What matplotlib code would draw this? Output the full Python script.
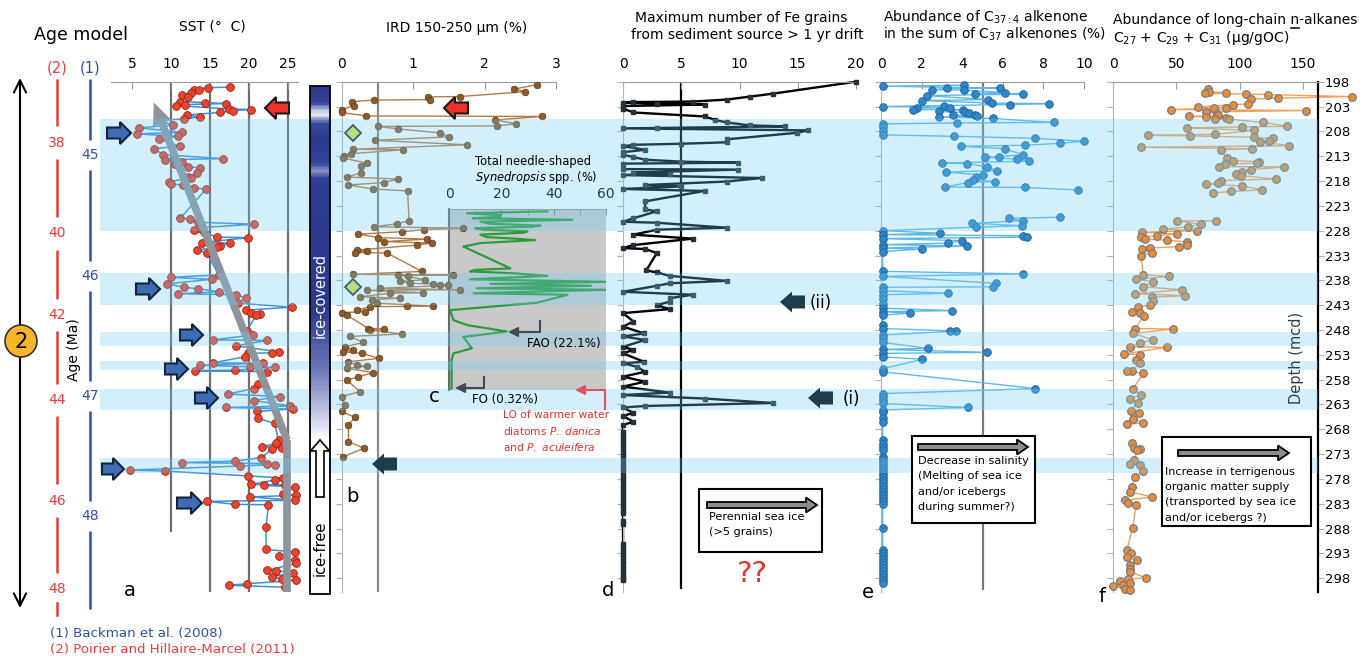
import numpy as np
import matplotlib
matplotlib.use("Agg")
import matplotlib.pyplot as plt
from matplotlib.patches import FancyArrow, Rectangle, Circle
from matplotlib.colors import LinearSegmentedColormap

# ---------------- data (depth in mcd, value) ----------------
sst_points = [
    (199.1, 17.6), (199.2, 14.7), (199.6, 13.0), (199.7, 13.6), (200.3, 12.6), (200.6, 11.4),
    (201.0, 12.2), (202.0, 11.2), (202.2, 14.4), (202.4, 17.1), (202.6, 11.8), (202.8, 10.7),
    (203.5, 17.5), (203.6, 20.3), (203.8, 18.0), (204.2, 16.3), (204.7, 12.0), (205.1, 13.7),
    (205.5, 11.7), (205.8, 8.5), (206.7, 10.3), (207.3, 5.9), (208.2, 11.4), (208.5, 5.6),
    (209.0, 10.9), (209.6, 8.5), (211.0, 11.1), (211.5, 7.8), (212.7, 9.0), (213.5, 16.7),
    (213.7, 9.2), (214.1, 11.4), (214.5, 10.5), (215.1, 12.2), (215.4, 13.7), (216.4, 13.3),
    (217.1, 12.2), (217.4, 12.6), (218.1, 9.8), (218.6, 10.0), (218.8, 11.5), (219.4, 12.9),
    (219.6, 14.5), (225.5, 11.2), (225.6, 12.4), (226.3, 13.5), (226.7, 20.6), (227.4, 13.6),
    (227.8, 12.9), (228.3, 14.2), (229.3, 15.9), (229.4, 19.9), (230.4, 14.0), (230.5, 17.6),
    (231.1, 16.3), (231.3, 15.9), (231.9, 13.3), (232.4, 14.6), (236.9, 16.1), (237.4, 10.0),
    (237.8, 15.2), (238.7, 9.5), (239.4, 11.7), (239.7, 13.5), (240.3, 16.1), (240.7, 10.9),
    (240.9, 18.4), (241.6, 19.6), (242.6, 18.6), (243.4, 25.5), (244.0, 19.6), (244.5, 20.3),
    (244.8, 21.4), (245.0, 20.9), (248.3, 19.7), (249.0, 20.5), (250.0, 15.4), (250.1, 22.3),
    (251.2, 18.3), (252.4, 23.9), (252.6, 22.9), (252.7, 19.9), (253.4, 19.5), (254.6, 15.4),
    (254.7, 21.8), (255.1, 13.7), (255.4, 20.1), (255.5, 23.3), (256.1, 18.2), (256.2, 13.1),
    (256.4, 22.3), (258.8, 21.2), (259.8, 20.6), (260.9, 17.3), (261.4, 24.0), (262.2, 20.6),
    (263.3, 25.3), (263.6, 17.1), (263.9, 25.7), (264.4, 21.0), (265.8, 21.2), (266.8, 23.3),
    (270.2, 23.8), (270.8, 23.5), (271.5, 21.7), (271.7, 24.2), (271.9, 23.0), (273.7, 21.6),
    (274.4, 18.2), (274.7, 11.4), (274.9, 22.3), (275.1, 23.3), (275.4, 18.8), (276.2, 4.7),
    (276.4, 9.2), (277.4, 19.9), (277.8, 24.4), (278.2, 23.3), (279.1, 20.3), (279.2, 24.6),
    (279.3, 22.0), (279.6, 25.9), (281.0, 24.4), (281.3, 26.1), (281.6, 20.1), (282.3, 25.9),
    (282.5, 14.6), (283.1, 18.2), (283.2, 22.5), (287.7, 22.2), (292.2, 22.2), (292.7, 25.9),
    (293.6, 23.9), (294.4, 25.9), (295.0, 26.1), (296.4, 22.3), (296.5, 23.5), (296.9, 25.7),
    (297.7, 22.9), (298.1, 24.2), (298.4, 26.1), (299.1, 19.7), (299.4, 17.4), (299.8, 24.6),
]

ird_points = [
    (198.6, 2.73), (199.5, 2.41), (200.0, 2.57), (201.0, 1.65), (201.05, 1.20), (201.6, 1.24),
    (201.7, 0.45), (202.0, 0.14), (202.8, 0.17), (203.6, 0.0), (204.2, 0.0), (204.9, 0.34),
    (205.0, 2.80), (205.7, 2.15), (206.5, 2.44), (206.9, 2.17), (207.0, 0.51), (207.5, 0.78),
    (208.3, 1.37), (209.1, 1.50), (209.8, 0.46), (210.7, 1.75), (211.6, 0.16), (211.7, 0.86),
    (212.5, 0.12), (212.9, 0.03), (213.4, 0.02), (214.4, 0.35), (214.9, 0.26), (216.4, 0.26),
    (217.2, 0.07), (217.6, 0.79), (218.3, 0.59), (218.8, 0.09), (219.6, 0.43), (220.0, 0.92),
    (226.0, 0.94), (226.6, 0.77), (227.2, 0.45), (227.5, 1.69), (227.8, 1.15), (228.2, 0.84),
    (228.7, 0.23), (229.4, 0.51), (229.7, 1.19), (230.2, 0.59), (230.5, 1.26), (230.9, 1.05),
    (231.9, 0.21), (232.0, 0.35), (232.4, 0.18), (232.5, 0.63), (236.2, 1.12), (236.8, 0.16),
    (236.9, 1.55), (237.0, 0.79), (237.2, 0.93), (237.9, 1.16), (238.2, 0.81), (238.6, 0.95),
    (238.7, 1.28), (238.9, 1.37), (239.0, 1.49), (239.6, 0.53), (239.9, 1.65), (240.0, 0.35),
    (240.5, 1.14), (240.6, 0.67), (241.3, 0.25), (241.6, 0.81), (241.9, 0.42), (242.6, 0.49),
    (243.2, 1.28), (243.25, 0.91), (243.3, 0.39), (244.0, 0.21), (244.3, 0.32), (244.5, 0.0),
    (245.0, 0.07), (247.7, 0.37), (247.8, 0.59), (248.0, 0.39), (248.8, 0.84), (249.3, 0.11),
    (250.5, 0.30), (251.4, 0.04), (252.0, 0.16), (252.4, 0.02), (252.7, 0.28), (253.7, 0.52),
    (254.4, 0.09), (255.1, 0.21), (255.3, 0.35), (255.7, 0.07), (256.6, 0.44), (257.4, 0.23),
    (258.1, 0.07), (260.4, 0.25), (261.4, 0.0), (263.1, 0.04), (264.4, 0.0), (265.6, 0.18),
    (267.1, 0.09), (270.5, 0.09), (271.8, 0.31), (273.5, 0.02),
]
ird_diamond_depth = [208.4, 239.4]
ird_diamond_value = [0.16, 0.16]

syn_points = [
    (224.1, 37.6), (224.5, 6.8), (224.9, 20.0), (225.2, 19.6), (225.5, 9.0), (225.8, 47.2),
    (226.2, 12.0), (226.6, 15.8), (227.0, 35.0), (227.2, 31.2), (227.5, 10.0), (227.8, 13.2),
    (228.1, 30.0), (228.4, 28.6), (228.8, 12.0), (229.3, 14.5), (229.6, 25.0), (229.9, 33.0),
    (230.5, 12.0), (231.2, 5.5), (235.6, 23.5), (235.9, 10.0), (236.2, 8.1), (236.6, 25.0),
    (237.1, 37.6), (237.8, 8.1), (238.3, 60.0), (238.7, 15.8), (239.1, 54.2), (239.6, 10.6),
    (239.9, 60.0), (240.6, 9.4), (240.9, 45.3), (242.5, 33.7), (244.0, 0.4), (246.0, 1.7),
    (247.0, 6.8), (248.3, 22.1), (249.4, 5.5), (251.7, 8.7), (252.7, 1.7), (254.0, 1.0),
    (259.8, 1.0), (260.1, 0.32),
]

fe_points = [
    (198.0, 20.0), (200.4, 12.9), (201.0, 10.9), (201.6, 8.9), (202.0, 6.0), (202.1, 0.9),
    (202.2, 0.0), (202.4, 2.9), (202.6, 7.0), (202.9, 0.0), (203.4, 0.0), (204.2, 0.9),
    (205.0, 7.0), (205.7, 7.9), (206.2, 8.9), (206.8, 10.9), (207.0, 13.9), (207.3, 2.9),
    (207.4, 0.0), (207.8, 15.9), (208.3, 14.9), (209.6, 8.9), (210.2, 8.9), (210.5, 5.0),
    (210.7, 0.9), (211.0, 0.0), (211.7, 1.9), (212.2, 0.0), (212.7, 0.0), (213.2, 0.9),
    (213.7, 1.9), (214.1, 5.0), (214.3, 9.9), (214.5, 0.0), (215.6, 0.0), (215.7, 9.9),
    (216.3, 0.9), (216.5, 4.0), (216.8, 0.0), (217.4, 11.9), (218.1, 8.9), (218.8, 1.9),
    (219.1, 5.0), (219.6, 0.0), (220.0, 7.0), (222.1, 1.9), (223.7, 1.9), (224.1, 2.9),
    (225.5, 0.9), (226.2, 0.0), (226.4, 2.9), (227.4, 8.9), (227.8, 2.9), (228.8, 0.9),
    (229.6, 6.0), (230.9, 0.9), (231.5, 0.0), (231.7, 1.9), (232.5, 2.9), (236.0, 2.0),
    (236.4, 2.9), (237.1, 4.0), (238.1, 8.9), (238.6, 4.0), (239.1, 2.9), (240.3, 0.0),
    (240.9, 6.0), (241.6, 4.0), (242.3, 4.0), (243.0, 2.9), (243.8, 4.0), (244.6, 0.0),
    (246.3, 0.9), (247.3, 0.0), (248.7, 1.8), (249.3, 0.0), (250.0, 1.9), (251.4, 0.0),
    (252.0, 0.9), (252.7, 0.0), (254.4, 1.8), (254.7, 0.0), (255.4, 1.2), (256.4, 1.9),
    (257.4, 0.0), (258.4, 1.9), (259.4, 0.0), (260.6, 4.0), (261.1, 0.0), (261.8, 7.0),
    (262.7, 12.9), (263.3, 1.9), (263.6, 0.0), (264.7, 0.9), (265.3, 0.0), (266.5, 0.9),
    (267.1, 0.0), (268.5, 0.0), (269.3, 0.0), (270.0, 0.0), (270.6, 0.0), (271.2, 0.0),
    (272.0, 0.0), (272.7, 0.0), (273.3, 0.0), (274.0, 0.0), (274.7, 0.0), (275.3, 0.0),
    (276.0, 0.0), (276.6, 0.0), (277.3, 0.0), (278.0, 0.0), (278.7, 0.0), (279.4, 0.0),
    (280.1, 0.0), (280.8, 0.0), (281.5, 0.0), (282.2, 0.0), (282.8, 0.0), (283.5, 0.0),
    (284.2, 0.0), (284.9, 0.0), (286.4, 0.0), (287.0, 0.0), (291.0, 0.0), (291.7, 0.0),
    (292.4, 0.0), (293.1, 0.0), (293.8, 0.0), (294.5, 0.0), (295.2, 0.0), (295.9, 0.0),
    (296.6, 0.0), (297.3, 0.0), (298.0, 0.0), (298.4, 0.0),
]

c37_points = [
    (198.7, 4.09), (198.9, 0.08), (199.3, 5.86), (199.35, 3.23), (199.6, 2.50), (199.7, 4.10),
    (200.2, 6.10), (200.4, 4.63), (200.5, 7.00), (200.8, 2.25), (201.6, 5.29), (201.8, 2.00),
    (202.3, 5.45), (202.4, 8.30), (202.6, 6.36), (202.8, 3.12), (203.0, 0.08), (203.2, 3.40),
    (203.3, 1.79), (203.6, 1.56), (203.65, 4.02), (204.0, 2.87), (204.2, 4.14), (204.3, 4.35),
    (204.7, 4.63), (204.75, 3.53), (205.0, 4.71), (205.1, 2.87), (205.4, 5.50), (206.2, 8.50),
    (206.3, 3.76), (206.5, 0.08), (207.2, 0.08), (207.9, 0.08), (208.7, 0.08), (209.0, 3.60),
    (209.4, 7.60), (210.0, 10.0), (210.4, 8.80), (210.8, 7.10), (211.0, 3.92), (211.5, 6.10),
    (212.7, 7.00), (213.1, 5.83), (213.2, 5.12), (213.6, 6.72), (214.0, 7.30), (214.4, 2.99),
    (214.5, 4.25), (215.1, 5.20), (215.9, 5.70), (216.2, 3.20), (216.8, 5.00), (217.1, 4.68),
    (217.8, 4.55), (218.1, 5.60), (218.3, 4.30), (219.2, 3.15), (219.3, 7.10), (219.8, 9.70),
    (225.3, 8.80), (225.5, 6.30), (226.0, 7.00), (226.5, 4.50), (227.0, 6.93), (227.3, 4.68),
    (228.0, 0.08), (228.5, 2.90), (228.8, 0.08), (229.0, 7.00), (229.3, 7.18), (229.6, 0.08),
    (230.0, 3.97), (230.5, 3.28), (230.8, 0.08), (231.1, 4.25), (231.5, 0.08), (231.7, 2.00),
    (232.2, 0.08), (236.2, 0.08), (236.7, 7.00), (237.2, 0.08), (238.6, 5.66), (239.3, 5.50),
    (239.4, 0.08), (240.1, 0.08), (240.6, 3.30), (240.9, 0.08), (241.8, 0.08), (242.8, 0.08),
    (243.6, 0.08), (244.1, 3.50), (244.3, 0.08), (244.6, 1.43), (245.0, 0.08), (247.0, 0.08),
    (247.7, 0.08), (248.2, 3.70), (248.3, 3.40), (249.0, 0.08), (249.7, 0.08), (250.5, 0.08),
    (251.7, 2.30), (251.9, 0.08), (252.5, 5.20), (252.7, 0.08), (253.4, 0.08), (253.9, 2.04),
    (255.8, 0.08), (256.4, 0.08), (259.8, 7.60), (260.8, 0.08), (261.5, 0.08), (262.1, 0.08),
    (262.8, 0.08), (263.6, 4.30), (264.1, 0.08), (264.5, 0.08), (265.8, 0.08), (266.5, 0.08),
    (270.2, 0.08), (270.9, 0.08), (271.5, 0.08), (272.2, 0.08), (273.5, 0.08), (274.0, 0.08),
    (274.6, 0.08), (275.2, 0.08), (275.8, 0.08), (276.4, 0.08), (277.0, 0.08), (277.6, 0.08),
    (278.2, 0.08), (278.8, 0.08), (279.4, 0.08), (280.0, 0.08), (280.6, 0.08), (281.2, 0.08),
    (281.8, 0.08), (282.4, 0.08), (283.0, 0.08), (287.8, 0.08), (292.4, 0.08), (293.0, 0.08),
    (293.6, 0.08), (294.2, 0.08), (294.8, 0.08), (295.4, 0.08), (296.0, 0.08), (296.6, 0.08),
    (297.2, 0.08), (297.8, 0.08), (298.4, 0.08), (299.0, 0.08),
]
c37_breaks = [222.0]

alk_points = [
    (199.5, 75.3), (200.0, 76.0), (200.2, 89.2), (200.3, 72.6), (200.5, 104.7), (200.6, 122.1),
    (201.0, 188.4), (201.3, 130.5), (201.5, 108.7), (202.5, 106.3), (202.6, 95.0), (203.1, 67.4),
    (203.2, 89.2), (203.3, 80.0), (203.6, 45.8), (203.8, 152.4), (204.1, 73.4), (204.5, 81.8),
    (204.8, 82.6), (205.0, 60.3), (205.1, 73.2), (205.3, 88.9), (205.5, 80.5), (205.55, 91.8),
    (206.2, 118.7), (207.0, 137.6), (207.1, 101.6), (207.3, 58.2), (207.8, 111.3), (208.6, 80.5),
    (208.8, 27.9), (208.9, 60.8), (209.2, 111.3), (209.4, 126.6), (210.0, 123.4), (210.05, 116.0),
    (210.9, 139.2), (211.2, 21.8), (211.5, 110.0), (211.7, 85.0), (213.4, 89.7), (213.9, 95.0),
    (214.1, 115.5), (214.4, 113.4), (214.6, 88.4), (215.1, 84.0), (215.15, 135.0), (215.7, 109.0),
    (216.1, 101.6), (216.5, 97.1), (216.9, 101.0), (217.6, 128.4), (217.9, 85.5), (218.4, 83.2),
    (218.6, 73.7), (219.0, 101.6), (219.8, 117.9), (220.1, 93.2), (220.4, 79.2), (226.0, 81.3),
    (226.05, 50.8), (226.7, 69.5), (227.2, 59.5), (227.7, 39.7), (228.0, 66.6), (228.3, 22.6),
    (228.7, 50.8), (229.0, 35.0), (229.3, 22.1), (229.7, 25.3), (229.9, 42.4), (230.3, 58.7),
    (230.9, 58.7), (231.2, 52.4), (231.5, 29.2), (231.7, 22.6), (232.4, 30.5), (233.0, 21.8),
    (236.9, 24.0), (237.2, 44.5), (237.8, 18.2), (238.3, 31.3), (239.3, 24.0), (239.9, 54.2),
    (240.7, 17.4), (241.1, 56.8), (241.4, 30.5), (242.2, 31.8), (243.0, 29.2), (243.3, 20.0),
    (244.3, 14.7), (244.6, 21.3), (245.1, 24.5), (247.7, 17.4), (247.8, 47.1), (248.7, 16.0),
    (250.0, 31.8), (250.6, 21.3), (251.4, 13.4), (251.5, 42.4), (252.8, 8.7), (253.0, 21.3),
    (254.0, 18.2), (254.7, 21.3), (256.2, 14.7), (256.3, 10.8), (256.7, 24.0), (259.9, 15.5),
    (261.1, 22.1), (261.8, 13.2), (262.8, 19.5), (264.4, 14.0), (264.7, 20.8), (266.0, 15.5),
    (266.7, 24.0), (267.0, 10.8), (270.8, 14.7), (271.7, 16.3), (271.9, 21.3), (272.1, 18.9),
    (274.1, 16.8), (275.0, 13.2), (275.2, 21.3), (276.4, 24.0), (277.6, 17.4), (279.6, 14.7),
    (280.6, 13.2), (281.6, 31.0), (282.3, 9.5), (282.8, 12.1), (283.3, 18.2), (287.8, 15.5),
    (292.4, 10.8), (293.0, 14.0), (293.8, 10.8), (294.4, 18.7), (295.4, 13.2), (296.1, 13.7),
    (296.7, 13.7), (297.9, 25.8), (298.2, 12.1), (298.5, 5.5), (299.0, 13.2), (299.4, 8.2),
    (299.6, 0.3), (300.1, 9.5), (300.4, 13.2),
]
alk_breaks = [223.0, 269.0]

band_top = [205.5, 236.5, 248.4, 254.2, 259.9, 273.8]
band_bottom = [228.0, 243.0, 251.2, 256.1, 264.1, 276.8]

age2_labels = ["38", "40", "42", "44", "46", "48"]
age2_depth = [210.3, 228.5, 245.0, 262.1, 282.4, 300.2]
age1_labels = ["45", "46", "47", "48"]
age1_depth = [212.8, 237.1, 261.3, 285.5]

depth_ticks = list(range(198, 299, 5))
sst_ref = [10, 15, 20, 25]
sst_ref_end = [288.7, 300.7, 300.7, 300.7]
trend_x = [24.9, 24.9, 7.8]
trend_d = [300.7, 270.2, 202.2]

# ---------------- layout helpers (pixels) ----------------
W, H = 1368, 660
Y198 = 81.7
PPM = 4.966
BOT = 592


def dep(y):
    return 198 + (y - Y198) / PPM


def unzip(points):
    return [p[0] for p in points], [p[1] for p in points]


def split_at(depths, values, breaks):
    segs, cur_d, cur_v = [], [], []
    edges = list(breaks) + [1e9]
    k = 0
    for d, v in zip(depths, values):
        while d > edges[k]:
            if cur_d:
                segs.append((cur_d, cur_v))
            cur_d, cur_v = [], []
            k += 1
        cur_d.append(d)
        cur_v.append(v)
    if cur_d:
        segs.append((cur_d, cur_v))
    return segs


fig = plt.figure(figsize=(W / 100, H / 100), dpi=100)


def panel(x0, x1, xlim, xticks, y0=Y198, y1=BOT, depth_axis=True, z=1):
    ax = fig.add_axes([x0 / W, 1 - y1 / H, (x1 - x0) / W, (y1 - y0) / H], zorder=z)
    ax.patch.set_visible(False)
    ax.set_xlim(xlim)
    ax.set_ylim(dep(y1), dep(y0))
    ax.xaxis.tick_top()
    ax.set_xticks(xticks)
    ax.tick_params(axis="x", direction="in", length=5, color="#999999", labelsize=10, pad=8)
    ax.spines["right"].set_visible(False)
    ax.spines["bottom"].set_visible(False)
    ax.spines["top"].set_color("#9a9a9a")
    ax.spines["left"].set_color("#b4b4b4")
    if depth_axis:
        ax.set_yticks(depth_ticks)
        ax.tick_params(axis="y", direction="out", length=4, color="#b0b0b0", labelleft=False)
    else:
        ax.spines["left"].set_visible(False)
        ax.set_yticks([])
    return ax


# ---------------- SST ----------------
sst = panel(111, 298, (2.3, 26.3), [5, 10, 15, 20, 25], depth_axis=False)
sst.vlines(sst_ref, 198, sst_ref_end, color="#6e6e6e", lw=1.6, zorder=1)
d, v = unzip(sst_points)
sst.plot(v, d, "-", color="#3d8fd4", lw=1.1, zorder=2, clip_on=False)
sst.plot(v, d, "o", ms=5.6, mfc="#e8442e", mec="#9b2414", mew=0.6, zorder=3, clip_on=False)
sst.plot(trend_x[:2], trend_d[:2], color="#8d949b", lw=5.5, solid_capstyle="butt", zorder=4)
sst.annotate("", xy=(trend_x[2], trend_d[2]), xytext=(trend_x[1], trend_d[1]),
             arrowprops=dict(arrowstyle="simple,head_width=1.4,head_length=1.6,tail_width=0.55",
                             fc="#8d949b", ec="none", mutation_scale=10, shrinkA=0, shrinkB=0),
             zorder=4)

# ---------------- inset (Synedropsis) ----------------
ins = fig.add_axes([449 / W, 1 - 390 / H, 157 / W, 181 / H], zorder=0.5)
ins.set_facecolor("#c9c9c9")
ins.set_xlim(0, 60)
ins.set_ylim(dep(390), dep(209))
ins.xaxis.tick_top()
ins.set_xticks([0, 20, 40, 60])
ins.set_xticks([10, 30, 50], minor=True)
ins.tick_params(axis="x", which="both", direction="in", length=4, color="#8a8a8a", labelsize=10, pad=6)
ins.set_yticks([])
for s in ["right", "bottom"]:
    ins.spines[s].set_visible(False)
ins.spines["top"].set_color("#9a9a9a")
ins.spines["left"].set_color("#6a6a6a")
ins.spines["left"].set_linewidth(1.5)
d, v = unzip(syn_points)
ins.plot(v, d, color="#2e9b3b", lw=1.6)

# ---------------- IRD ----------------
ird = panel(342, 556, (0, 3), [0, 1, 2, 3])
ird.vlines(0.5, 198, dep(592), color="#8a8a8a", lw=1.6, zorder=1)
d, v = unzip(ird_points)
ird.plot(v, d, "-", color="#b47a45", lw=1.0, zorder=2, clip_on=False)
ird.plot(v, d, "o", ms=4.8, mfc="#8d5a2a", mec="#5e3b18", mew=0.5, zorder=3, clip_on=False)
ird.plot(ird_diamond_value, ird_diamond_depth, "D", ms=8, mfc="#dde44c", mec="#23343a", mew=1.3, zorder=5)

# ---------------- Fe grains ----------------
fe = panel(623, 856, (0, 20), [0, 5, 10, 15, 20])
fe.vlines(5, 198, dep(589), color="black", lw=1.6, zorder=1)
d, v = unzip(fe_points)
fe.plot(v, d, "-", color="black", lw=1.7, zorder=2, clip_on=False)
fe.plot(v, d, "s", ms=2.6, color="#22313a", zorder=3, clip_on=False)

# ---------------- C37:4 ----------------
c37 = panel(881, 1084, (0, 10), [0, 2, 4, 6, 8, 10])
c37.vlines(5, 198, dep(590), color="#7a7a7a", lw=1.6, zorder=1)
d, v = unzip(c37_points)
for sd, sv in split_at(d, v, c37_breaks):
    c37.plot(sv, sd, "-", color="#5cb8ec", lw=1.0, zorder=2, clip_on=False)
c37.plot(v, d, "o", ms=5.5, mfc="#2f87c9", mec="#1f5f97", mew=0.6, zorder=3, clip_on=False)

# ---------------- n-alkanes + depth axis ----------------
alk = panel(1113, 1318, (0, 161.8), [0, 50, 100, 150])
alk.spines["right"].set_visible(True)
alk.spines["right"].set_color("black")
alk.spines["right"].set_linewidth(1.6)
alk.yaxis.set_ticks_position("both")
alk.tick_params(axis="y", labelright=True, labelleft=False, labelsize=9.5, pad=1, length=4)
for t in alk.yaxis.get_major_ticks():
    t.tick1line.set_color("#b0b0b0")
    t.tick2line.set_color("black")
d, v = unzip(alk_points)
for sd, sv in split_at(d, v, alk_breaks):
    alk.plot(sv, sd, "-", color="#f4a05a", lw=1.0, zorder=2, clip_on=False)
alk.plot(v, d, "o", ms=5.5, mfc="#f08a33", mec="#6e7f8f", mew=0.9, zorder=3, clip_on=False)

# ---------------- bands + age model (depth coordinates) ----------------
bands = fig.add_axes([0, 0, 1, 1], zorder=3)
bands.axis("off")
bands.set_xlim(0, W)
bands.set_ylim(dep(H), dep(0))
for t, b in zip(band_top, band_bottom):
    bands.axhspan(t, b, xmin=100 / W, xmax=1318 / W, color="#6ecdf5", alpha=0.3, lw=0)


def age_column(x, labels, depths, color, top, bottom, gap, dashed_tail=None):
    edges = [top]
    for dd in depths:
        edges += [dd - gap, dd + gap]
    edges.append(bottom)
    segs = list(zip(edges[0::2], edges[1::2]))
    if dashed_tail:
        segs = segs[:-1]
        bands.plot([x, x], dashed_tail, color=color, lw=1.8)
    for a, b in segs:
        bands.plot([x, x], [a, b], color=color, lw=1.8, solid_capstyle="butt")
    for lab, dd in zip(labels, depths):
        bands.text(x, dd, lab, color=color, fontsize=10, ha="center", va="center")


age_column(57, age2_labels, age2_depth, "#ee3b3b", 197.5, 305.0, 3.3, dashed_tail=[303.0, 305.3])
age_column(90, age1_labels, age1_depth, "#2f50a8", 197.5, 304.2, 3.0)

# ---------------- decorations (pixel coordinates) ----------------
deco = fig.add_axes([0, 0, 1, 1], zorder=4)
deco.axis("off")
deco.set_xlim(0, W)
deco.set_ylim(H, 0)

# ice colour strip
ice_stops = [(0.0, "#2b3a8f"), (0.03, "#34449a"), (0.045, "#c9cfea"), (0.055, "#e3e6f3"),
             (0.07, "#3a4a9c"), (0.10, "#2b3a8f"), (0.15, "#34449a"), (0.165, "#8790c0"),
             (0.18, "#2f3e94"), (0.44, "#2b3a8f"), (0.56, "#6d78ba"), (0.66, "#d4d7ee"),
             (0.70, "#ffffff"), (1.0, "#ffffff")]
cmap = LinearSegmentedColormap.from_list("ice", ice_stops)
deco.imshow(np.linspace(0, 1, 400).reshape(-1, 1), cmap=cmap, aspect="auto",
            extent=(310, 330, 594, 86), origin="upper", zorder=1)
deco.add_patch(Rectangle((310, 86), 20, 508, fc="none", ec="black", lw=1.3, zorder=2))
deco.add_patch(FancyArrow(320, 497, 0, -57, width=8, head_width=19, head_length=11,
                          length_includes_head=True, fc="white", ec="black", lw=1.2, zorder=3))
deco.text(320, 296, "ice-covered", rotation=90, color="white", fontsize=10.5, ha="center", va="center", zorder=3)
deco.text(320, 548, "ice-free", rotation=90, color="black", fontsize=10.5, ha="center", va="center", zorder=3)

# block arrows
for x0, y0, L in [(107, 133, 24), (136, 289, 24), (180, 335, 23), (165, 369, 23),
                  (195, 398, 23), (102, 469, 22), (177, 503, 25)]:
    deco.add_patch(FancyArrow(x0, y0, L, 0, width=11, head_width=22, head_length=11,
                              length_includes_head=True, fc="#3c6db4", ec="#14233a", lw=1.5))
for x0, y0 in [(289, 108), (468, 108)]:
    deco.add_patch(FancyArrow(x0, y0, -24, 0, width=11, head_width=22, head_length=11,
                              length_includes_head=True, fc="#e8322a", ec="#1a1a1a", lw=1.5))
for x0, y0 in [(397, 464), (805, 302), (833, 398)]:
    deco.add_patch(FancyArrow(x0, y0, -25, 0, width=13, head_width=21, head_length=12,
                              length_includes_head=True, fc="#1f3c4c", ec="none"))
deco.text(810, 303, "(ii)", fontsize=12, ha="left", va="center")
deco.text(843, 399, "(i)", fontsize=12, ha="left", va="center")

# inset annotations
deco.text(475, 161, "Total needle-shaped", fontsize=8.3, ha="left", va="center")
deco.text(475, 177, r"$\mathit{Synedropsis}$ spp. (%)", fontsize=8.3, ha="left", va="center")
deco.plot([540, 540, 522], [321, 332, 332], color="#3f4a55", lw=1.5)
deco.annotate("", xy=(508, 332), xytext=(524, 332),
              arrowprops=dict(arrowstyle="-|>", color="#3f4a55", lw=1.5, mutation_scale=14, shrinkA=0, shrinkB=0))
deco.text(527, 343, "FAO (22.1%)", fontsize=8.6, ha="left", va="center")
deco.plot([484, 484, 470], [377, 388, 388], color="#3f4a55", lw=1.5)
deco.annotate("", xy=(455, 388), xytext=(472, 388),
              arrowprops=dict(arrowstyle="-|>", color="#3f4a55", lw=1.5, mutation_scale=14, shrinkA=0, shrinkB=0))
deco.text(472, 399, "FO (0.32%)", fontsize=8.5, ha="left", va="center")
deco.plot([605, 605, 590], [409, 390, 390], color="#e5505a", lw=1.5)
deco.annotate("", xy=(575, 390), xytext=(592, 390),
              arrowprops=dict(arrowstyle="-|>", color="#e5505a", lw=1.5, mutation_scale=14, shrinkA=0, shrinkB=0))
red = "#e8322a"
deco.text(503, 415, "LO of warmer water", color=red, fontsize=7.7, ha="left", va="center")
deco.text(503, 431, r"diatoms $\mathit{P.\ danica}$", color=red, fontsize=7.7, ha="left", va="center")
deco.text(503, 447, r"and $\mathit{P.\ aculeifera}$", color=red, fontsize=7.7, ha="left", va="center")


def info_box(x0, y0, x1, y1, ax0, ax1, ay, lines, tx, ty, dy):
    deco.add_patch(Rectangle((x0, y0), x1 - x0, y1 - y0, fc="white", ec="black", lw=1.5))
    deco.add_patch(FancyArrow(ax0, ay, ax1 - ax0, 0, width=6, head_width=15, head_length=11,
                              length_includes_head=True, fc="#8e8e8e", ec="black", lw=1.3))
    for i, s in enumerate(lines):
        deco.text(tx, ty + i * dy, s, fontsize=8.1, ha="left", va="center")


info_box(699, 489, 822, 552, 707, 817, 505, ["Perennial sea ice", "(>5 grains)"], 709, 517, 15)
info_box(912, 436, 1035, 523, 918, 1028, 447,
         ["Decrease in salinity", "(Melting of sea ice", "and/or icebergs", "during summer?)"], 918, 461, 15.3)
info_box(1162, 437, 1311, 526, 1178, 1289, 453,
         ["Increase in terrigenous", "organic matter supply", "(transported by sea ice", "and/or icebergs ?)"],
         1165, 472, 15.2)
deco.text(752, 574, "??", color=red, fontsize=21, ha="center", va="center")

# titles
deco.text(81, 35, "Age model", fontsize=12.5, ha="center", va="center")
deco.text(57, 68, "(2)", color="#ee3b3b", fontsize=10.5, ha="center", va="center")
deco.text(90, 68, "(1)", color="#2f50a8", fontsize=10.5, ha="center", va="center")
deco.text(212, 26, "SST (°  C)", fontsize=10, ha="center", va="center")
deco.text(457, 28, "IRD 150-250 µm (%)", fontsize=10, ha="center", va="center")
deco.text(741, 18, "Maximum number of Fe grains", fontsize=10, ha="center", va="center")
deco.text(747, 35, "from sediment source > 1 yr drift", fontsize=10, ha="center", va="center")
deco.text(883, 17, r"Abundance of C$_{37:4}$ alkenone", fontsize=10, ha="left", va="center")
deco.text(883, 34, r"in the sum of C$_{37}$ alkenones (%)", fontsize=10, ha="left", va="center")
deco.text(1113, 20, "Abundance of long-chain n-alkanes", fontsize=10, ha="left", va="center")
deco.text(1113, 38, r"C$_{27}$ + C$_{29}$ + C$_{31}$ (µg/gOC)", fontsize=10, ha="left", va="center")
# underline the "n"
rend = fig.canvas.get_renderer()
probe = deco.text(1113, 20, "Abundance of long-chain n", fontsize=10, ha="left", va="center", alpha=0)
probe_n = deco.text(0, 20, "n", fontsize=10, ha="left", va="center", alpha=0)
n_end = probe.get_window_extent(rend).x1
n_w = probe_n.get_window_extent(rend).width
deco.plot([n_end - n_w + 0.5, n_end - 0.5], [28, 28], color="black", lw=1.1)

deco.text(74, 350, "Age (Ma)", rotation=90, fontsize=10, ha="center", va="center")
deco.text(1297, 358, "Depth (mcd)", rotation=90, color="#2d3e4e", fontsize=10.5, ha="center", va="center")
deco.text(50, 633, "(1) Backman et al. (2008)", color="#2f50a8", fontsize=9.6, ha="left", va="center")
deco.text(50, 650, "(2) Poirier and Hillaire-Marcel (2011)", color="#ee3b3b", fontsize=9.6, ha="left", va="center")

for lab, x, y in [("a", 130, 590), ("b", 352, 497), ("c", 434, 397), ("d", 608, 590),
                  ("e", 868, 592), ("f", 1102, 597)]:
    deco.text(x, y, lab, fontsize=14, ha="center", va="center")

# double arrow + circled number
deco.annotate("", xy=(20, 78), xytext=(20, 608),
              arrowprops=dict(arrowstyle="<->", lw=1.5, mutation_scale=22, color="black", shrinkA=0, shrinkB=0))
deco.add_patch(Circle((21, 341), 16, fc="#f7b52c", ec="#333333", lw=1.2, zorder=5))
deco.text(21, 342, "2", fontsize=15, ha="center", va="center", zorder=6)

fig.savefig("out.png", dpi=100)
